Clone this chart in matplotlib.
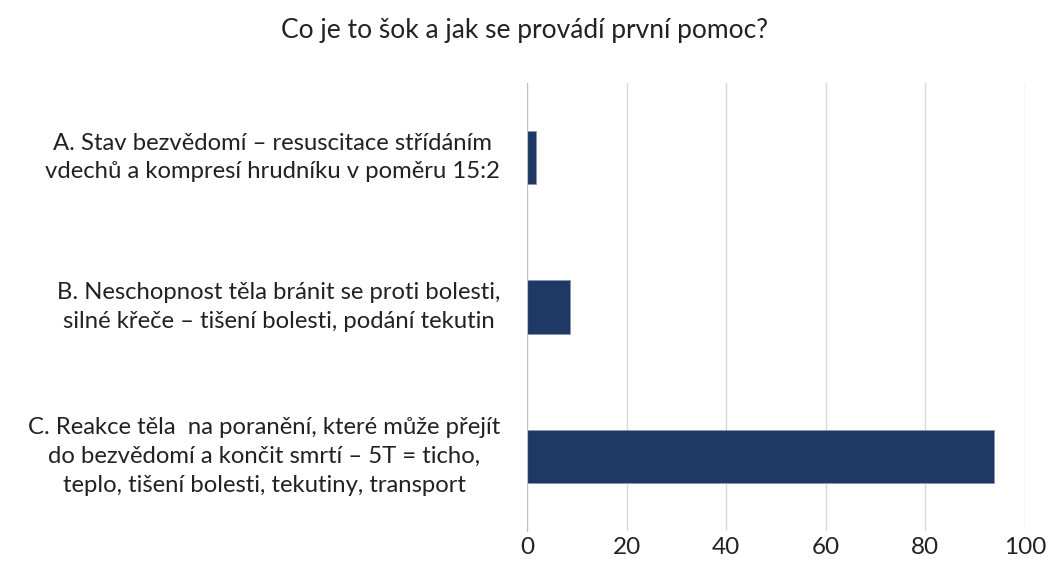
import matplotlib
matplotlib.use("Agg")
import matplotlib.pyplot as plt

title = "Co je to šok a jak se provádí první pomoc?"
categories = [
    "A. Stav bezvědomí – resuscitace střídáním\nvdechů a kompresí hrudníku v poměru 15:2",
    "B. Neschopnost těla bránit se proti bolesti,\nsilné křeče – tišení bolesti, podání tekutin",
    "C. Reakce těla  na poranění, které může přejít\ndo bezvědomí a končit smrtí – 5T = ticho,\nteplo, tišení bolesti, tekutiny, transport",
]
values = [1.8, 8.6, 93.8]
xticks = [0, 20, 40, 60, 80, 100]

plt.rcParams["font.family"] = ["Lato", "DejaVu Sans"]

fig = plt.figure(figsize=(10.49, 5.76), dpi=100)
ax = fig.add_axes([0.5024, 0.078, 0.4747, 0.778])

y = list(range(len(categories)))
ax.barh(y, values, height=0.355, color="#203864", edgecolor="#8497b0", linewidth=0.6, zorder=3)
ax.set_ylim(len(categories) - 0.5, -0.5)
ax.set_xlim(0, 100)
ax.set_xticks(xticks)
ax.set_xticklabels([str(t) for t in xticks], fontsize=17.5, color="#222222")
ax.set_yticks(y)
ax.set_yticklabels([])
ax.tick_params(axis="both", length=0)
ax.tick_params(axis="x", pad=4)
ax.grid(axis="x", color="#d9d9d9", linewidth=1, zorder=0)
for s in ["top", "right", "bottom"]:
    ax.spines[s].set_visible(False)
ax.spines["left"].set_color("#bfbfbf")
ax.spines["left"].set_zorder(4)

# category labels drawn as centred multi-line text to control line spacing
for yi, lab in zip(y, categories):
    ax.text(-0.054, yi, lab, transform=ax.get_yaxis_transform(), ha="right", va="center",
            multialignment="center", linespacing=1.45, fontsize=17.2, color="#222222")

fig.text(0.5, 0.947, title, ha="center", va="center", fontsize=19, color="#222222")

fig.savefig("out.png", dpi=100)
